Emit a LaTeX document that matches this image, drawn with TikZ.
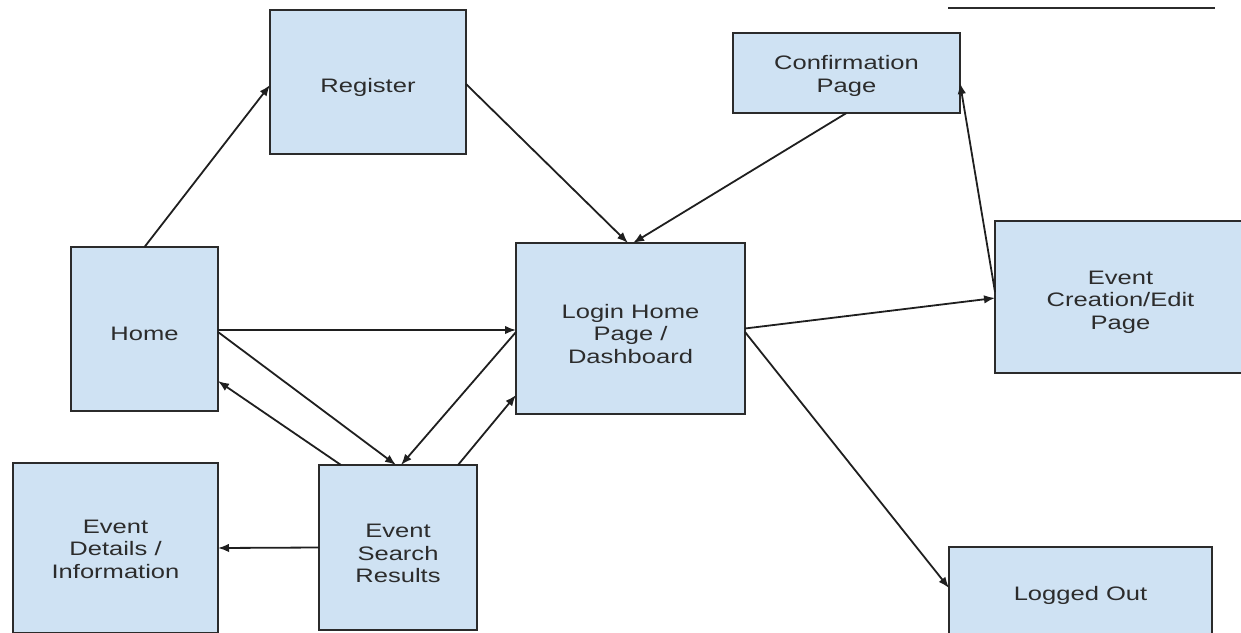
\documentclass[tikz,border=0pt]{standalone}
\usepackage{fontspec}
\setmainfont{Liberation Sans}[FakeStretch=1.31]
\usetikzlibrary{arrows.meta}
\definecolor{boxfill}{HTML}{CFE2F3}
\definecolor{boxline}{HTML}{2B2B2B}
\definecolor{txt}{HTML}{2C2C2C}
\newcommand\liftby[1]{\rule{0pt}{#1}}
\tikzset{
  pagebox/.style={draw=boxline, line width=2pt, fill=boxfill, rectangle,
    anchor=north west, outer sep=0pt, inner sep=0pt, align=center, text=txt,
    font=\fontsize{19.5}{22.5}\selectfont},
  link/.style={draw=black!88, line width=1.8pt, -{Latex[length=11pt,width=8.5pt]}},
}
\begin{document}
\begin{tikzpicture}[x=1pt,y=-1pt]
\useasboundingbox (0,0) rectangle (1241,632);
\clip (0,0) rectangle (1241,632);

\node[pagebox, minimum width=196pt, minimum height=144pt] (reg) at (270,10) {\liftby{26pt}Register};
\node[pagebox, minimum width=227pt, minimum height=80pt] (conf) at (733,33) {\liftby{20pt}Confirmation\\Page};
\node[pagebox, minimum width=147pt, minimum height=164pt] (home) at (71,247) {\liftby{24pt}Home};
\node[pagebox, minimum width=229pt, minimum height=171pt] (login) at (516,243) {\liftby{25pt}Login Home\\Page /\\Dashboard};
\node[pagebox, minimum width=251pt, minimum height=152pt] (create) at (995,221) {\liftby{24pt}Event\\Creation/Edit\\Page};
\node[pagebox, minimum width=205pt, minimum height=170pt] (details) at (13,463) {\liftby{16pt}Event\\Details /\\Information};
\node[pagebox, minimum width=158pt, minimum height=165pt] (search) at (319,465) {\liftby{26pt}Event\\Search\\Results};
\node[pagebox, minimum width=263pt, minimum height=92pt] (logout) at (949,547) {\liftby{20pt}Logged Out};

\draw[draw=boxline, line width=1.6pt] (948,8) -- (1215,8);

\draw[link] (home.north) -- ([yshift=-3pt]reg.west);
\draw[link] ([yshift=-2pt]reg.east) -- ([xshift=-2.5pt]login.north);
\draw[link] (conf.south) -- ([xshift=2.5pt]login.north);
\draw[link] ([yshift=5pt]create.west) -- ([yshift=-10pt]conf.east);
\draw[link] (login.east) -- ([yshift=-1pt]create.west);
\draw[link] ([yshift=-3.5pt]login.east) -- ([yshift=5pt]logout.west);
\draw[link] ([yshift=-1pt]home.east) -- ([yshift=-1.5pt]login.west);
\draw[link] ([yshift=-3pt]home.east) -- ([xshift=-2pt]search.north);
\draw[link] ([yshift=-3.5pt]login.west) -- ([xshift=3pt]search.north);
\draw[link] ([xshift=-57pt]search.north) -- ([yshift=-52pt]home.east);
\draw[link] ([xshift=60pt]search.north) -- ([yshift=-66.5pt]login.west);
\draw[link] (search.west) -- (details.east);
\end{tikzpicture}
\end{document}
